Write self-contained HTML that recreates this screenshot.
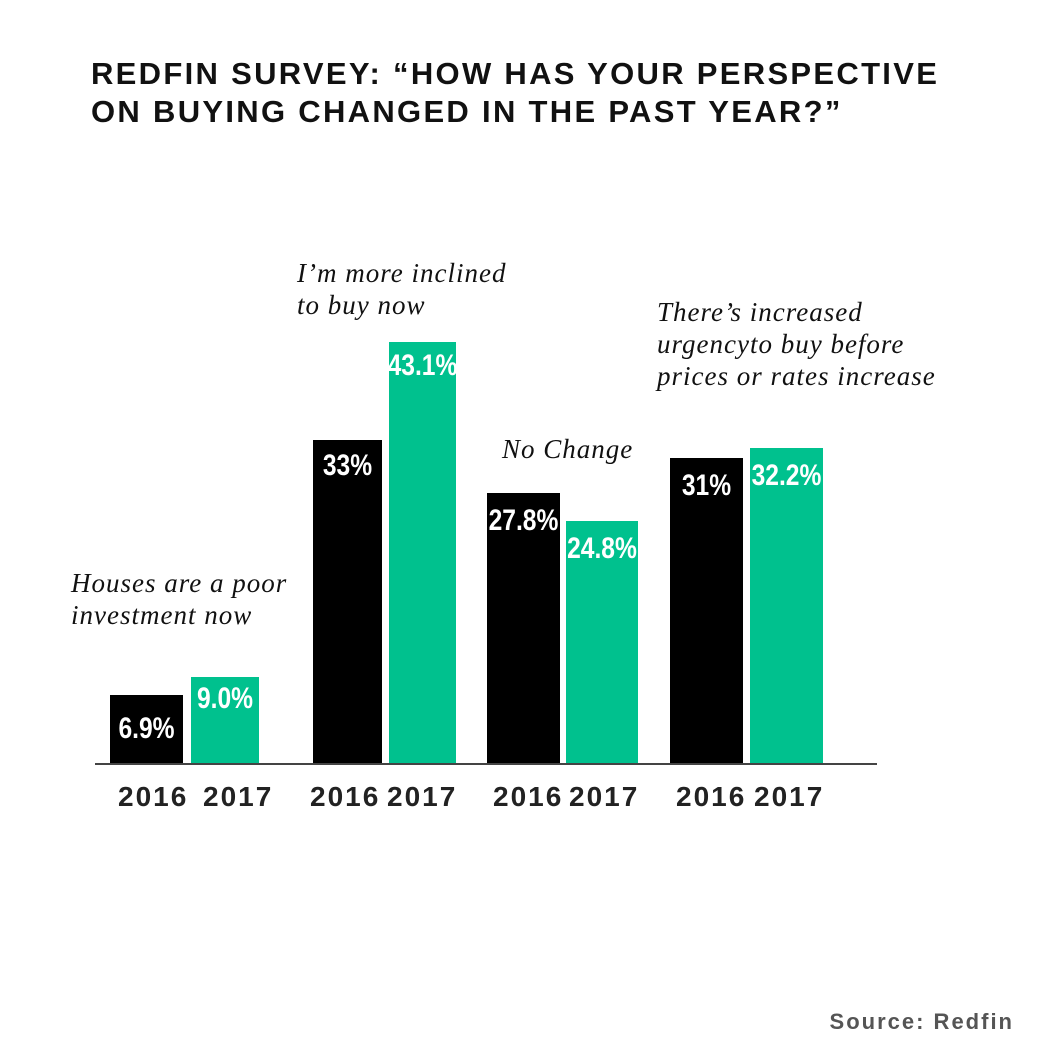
<!DOCTYPE html>
<html><head><style>
body{margin:0;background:#fff;width:1043px;height:1061px;position:relative;overflow:hidden;font-family:"Liberation Sans",sans-serif}
.t{position:absolute;left:91px;top:55px;font-weight:bold;font-size:31px;line-height:38px;color:#111;letter-spacing:2.3px;white-space:nowrap}
.b{position:absolute;}
.k{background:#000}.g{background:#00c18e}
.v{position:absolute;left:-20px;right:-20px;color:#fff;font-family:"Liberation Sans Narrow","Liberation Sans",sans-serif;font-weight:bold;font-size:30px;text-align:center;transform:scaleX(0.82)}
.y{position:absolute;top:781px;font-weight:bold;font-size:28px;color:#222;letter-spacing:2px}
.c{position:absolute;font-family:"Liberation Serif",serif;font-style:italic;font-size:27px;line-height:32px;color:#111;letter-spacing:1px;white-space:nowrap}
</style></head><body>
<div class="t">REDFIN SURVEY: “HOW HAS YOUR PERSPECTIVE<br>ON BUYING CHANGED IN THE PAST YEAR?”</div>

<div class="b k" style="left:110px;top:695px;width:73px;height:68px"><div class="v" style="top:17px">6.9%</div></div>
<div class="b g" style="left:191px;top:677px;width:68px;height:86px"><div class="v" style="top:5px">9.0%</div></div>
<div class="b k" style="left:313px;top:440px;width:69px;height:323px"><div class="v" style="top:9px">33%</div></div>
<div class="b g" style="left:389px;top:342px;width:67px;height:421px"><div class="v" style="top:7px">43.1%</div></div>
<div class="b k" style="left:487px;top:493px;width:73px;height:270px"><div class="v" style="top:11px">27.8%</div></div>
<div class="b g" style="left:566px;top:521px;width:72px;height:242px"><div class="v" style="top:11px">24.8%</div></div>
<div class="b k" style="left:670px;top:458px;width:73px;height:305px"><div class="v" style="top:11px">31%</div></div>
<div class="b g" style="left:750px;top:448px;width:73px;height:315px"><div class="v" style="top:11px">32.2%</div></div>
<div class="b" style="left:95px;top:763px;width:782px;height:2px;background:#444"></div>

<div class="y" style="left:118px">2016</div><div class="y" style="left:203px">2017</div>
<div class="y" style="left:310px">2016</div><div class="y" style="left:387px">2017</div>
<div class="y" style="left:493px">2016</div><div class="y" style="left:569px">2017</div>
<div class="y" style="left:676px">2016</div><div class="y" style="left:754px">2017</div>

<div class="c" style="left:71px;top:567px">Houses are a poor<br>investment now</div>
<div class="c" style="left:297px;top:257px">I’m more inclined<br>to buy now</div>
<div class="c" style="left:502px;top:433px">No Change</div>
<div class="c" style="left:657px;top:296px">There’s increased<br>urgencyto buy before<br>prices or rates increase</div>

<div style="position:absolute;right:29px;top:1009px;font-weight:bold;font-size:22px;color:#555;letter-spacing:2px">Source: Redfin</div>
</body></html>
